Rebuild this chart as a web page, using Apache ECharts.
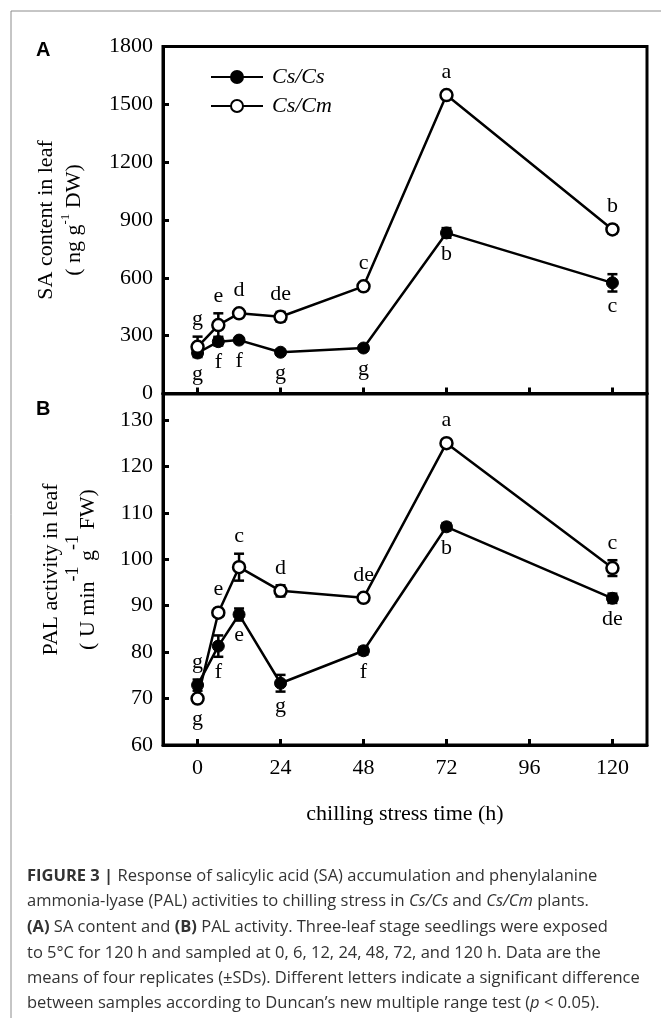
<!DOCTYPE html>
<html>
<head>
<meta charset="utf-8">
<script src="https://cdn.jsdelivr.net/npm/echarts@6/dist/echarts.min.js"></script>
<style>
html,body{margin:0;padding:0;background:#fff}
#main{width:661px;height:1018px}
</style>
</head>
<body>
<div id="main"></div>
<script>
var hours = [0, 6, 12, 24, 48, 72, 120];
var xTicks = [0, 24, 48, 72, 96, 120];

// A: SA content (ng g-1 DW)
var saCsCs = [210, 269, 277, 214, 236, 833, 574];
var saCsCsSd = [15, 20, 12, 12, 12, 25, 45];
var saCsCm = [242, 355, 416, 398, 556, 1548, 851];
var saCsCmSd = [53, 61, 15, 25, 12, 15, 20];
var saLetCsCs = ['g', 'f', 'f', 'g', 'g', 'b', 'c'];
var saLetCsCm = ['g', 'e', 'd', 'de', 'c', 'a', 'b'];

// B: PAL activity (U min-1 g-1 FW)
var palCsCs = [72.9, 81.3, 88.1, 73.3, 80.3, 107.0, 91.6];
var palCsCsSd = [1.2, 2.3, 1.3, 1.8, 0.8, 0.8, 1.0];
var palCsCm = [70.0, 88.5, 98.3, 93.2, 91.7, 125.0, 98.1];
var palCsCmSd = [0.5, 0.8, 2.9, 1.2, 0.6, 0.6, 1.7];
var palLetCsCs = ['g', 'f', 'e', 'g', 'f', 'b', 'de'];
var palLetCsCm = ['g', 'e', 'c', 'd', 'de', 'a', 'c'];

var serif = '"Liberation Serif", "Times New Roman", serif';
var sans = '"Open Sans", "Liberation Sans", Arial, sans-serif';

function pts(vals) {
	return hours.map(function(h, i) { return [h, vals[i]]; });
}

function lineSeries(name, idx, vals, open) {
	return {
		name: name,
		type: 'line',
		xAxisIndex: idx,
		yAxisIndex: idx,
		data: pts(vals),
		symbol: 'circle',
		symbolSize: 12,
		z: 3,
		lineStyle: { color: '#000', width: 2.5 },
		itemStyle: open ? { color: '#fff', borderColor: '#000', borderWidth: 2.5 }
		                : { color: '#000', borderColor: '#000', borderWidth: 1 },
		emphasis: { disabled: true }
	};
}

// error bars + significance letters
function errSeries(idx, vals, sds, letters, other) {
	return {
		type: 'custom',
		xAxisIndex: idx,
		yAxisIndex: idx,
		z: 2,
		silent: true,
		data: hours.map(function(h, i) { return [h, vals[i], sds[i]]; }),
		encode: { x: 0, y: 1 },
		renderItem: function(params, api) {
			var i = params.dataIndex;
			var p = api.coord([hours[i], vals[i]]);
			var hi = api.coord([hours[i], vals[i] + sds[i]]);
			var lo = api.coord([hours[i], vals[i] - sds[i]]);
			var up = vals[i] >= other[i];
			var ty = up ? Math.min(p[1] - 12, hi[1] - 6) : Math.max(p[1] + 10, lo[1] + 4);
			var st = { stroke: '#000', lineWidth: 2.5 };
			return {
				type: 'group',
				children: [
					{ type: 'line', shape: { x1: p[0], y1: hi[1], x2: p[0], y2: lo[1] }, style: st },
					{ type: 'line', shape: { x1: p[0] - 5, y1: hi[1], x2: p[0] + 5, y2: hi[1] }, style: st },
					{ type: 'line', shape: { x1: p[0] - 5, y1: lo[1], x2: p[0] + 5, y2: lo[1] }, style: st },
					{ type: 'text', x: p[0], y: ty, rotation: 0, style: {
						text: letters[i], fontFamily: serif, fontSize: 22, fill: '#000',
						align: 'center', verticalAlign: up ? 'bottom' : 'top'
					} }
				]
			};
		}
	};
}

function plain(v) { return String(v); }

function xAxis(idx, showLabel) {
	return {
		type: 'value', gridIndex: idx, min: -10, max: 130,
		axisLine: { onZero: false, lineStyle: { color: '#000', width: 3 } },
		axisTick: { inside: true, length: 6, customValues: xTicks, lineStyle: { color: '#000', width: 3 } },
		axisLabel: { show: showLabel, customValues: xTicks, formatter: plain, margin: 12, fontFamily: serif, fontSize: 22, color: '#000' },
		splitLine: { show: false },
		name: showLabel ? 'chilling stress time (h)' : '',
		nameLocation: 'middle', nameGap: 58,
		nameTextStyle: { fontFamily: serif, fontSize: 22, color: '#000' }
	};
}

function yAxis(idx, min, max, interval, name, supSize, supPad, gap) {
	var base = { fontFamily: serif, fontSize: 22, color: '#000', lineHeight: 26 };
	return {
		type: 'value', gridIndex: idx, min: min, max: max, interval: interval,
		axisLine: { onZero: false, lineStyle: { color: '#000', width: 3 } },
		axisTick: { inside: true, length: 6, lineStyle: { color: '#000', width: 3 } },
		axisLabel: { margin: 10, formatter: plain, fontFamily: serif, fontSize: 22, color: '#000', showMaxLabel: idx == 0 },
		splitLine: { show: false },
		name: name, nameLocation: 'middle', nameRotate: 90, nameGap: gap,
		nameTextStyle: {
			rich: {
				a: base,
				s: { fontFamily: serif, fontSize: supSize, color: '#000', padding: [0, 0, supPad, 0] }
			}
		}
	};
}

function captionLine(y, text) {
	return {
		type: 'text', x: 27, y: y,
		style: {
			text: text, fontFamily: sans, fontSize: 16.5, fill: '#333', verticalAlign: 'middle',
			rich: {
				n: { fontFamily: sans, fontSize: 16.5, color: '#333' },
				b: { fontFamily: sans, fontSize: 16.5, fontWeight: 'bold', color: '#222' },
				i: { fontFamily: sans, fontSize: 16.5, fontStyle: 'italic', color: '#333' }
			}
		}
	};
}

var myChart = echarts.init(document.getElementById('main'));
var option = {
	backgroundColor: '#fff',
	animation: false,
	grid: [
		{ left: 163, right: 14, top: 46.5, height: 347, show: true, borderColor: '#000', borderWidth: 3 },
		{ left: 163, right: 14, top: 394, height: 351, show: true, borderColor: '#000', borderWidth: 3 }
	],
	legend: {
		data: ['Cs/Cs', 'Cs/Cm'],
		orient: 'vertical', left: 205, top: 61, itemGap: 7,
		itemWidth: 52, itemHeight: 15,
		textStyle: { fontFamily: serif, fontStyle: 'italic', fontSize: 22, color: '#000', padding: [0, 0, 0, 4] }
	},
	xAxis: [xAxis(0, false), xAxis(1, true)],
	yAxis: [
		yAxis(0, 0, 1800, 300, '{a|SA content in leaf}\n{a|( ng g}{s|-1}{a| DW)}', 13, 18, 73),
		yAxis(1, 60, 135.6, 10, '{a|PAL activity in leaf}\n{a|( U min}{s|-1}{a| g}{s|-1}{a| FW)}', 18, 30, 51)
	],
	series: [
		errSeries(0, saCsCs, saCsCsSd, saLetCsCs, saCsCm),
		errSeries(0, saCsCm, saCsCmSd, saLetCsCm, saCsCs),
		lineSeries('Cs/Cs', 0, saCsCs, false),
		lineSeries('Cs/Cm', 0, saCsCm, true),
		errSeries(1, palCsCs, palCsCsSd, palLetCsCs, palCsCm),
		errSeries(1, palCsCm, palCsCmSd, palLetCsCm, palCsCs),
		lineSeries('Cs/Cs', 1, palCsCs, false),
		lineSeries('Cs/Cm', 1, palCsCm, true)
	],
	graphic: [
		{ type: 'line', shape: { x1: 11, y1: 11, x2: 661, y2: 11 }, style: { stroke: '#8c8c8c', lineWidth: 1 } },
		{ type: 'line', shape: { x1: 11, y1: 11, x2: 11, y2: 1018 }, style: { stroke: '#8c8c8c', lineWidth: 1 } },
		{ type: 'text', x: 36, y: 50, style: { text: 'A', fontFamily: '"Liberation Sans", Arial, sans-serif', fontWeight: 'bold', fontSize: 20, fill: '#000', verticalAlign: 'middle' } },
		{ type: 'text', x: 36, y: 409, style: { text: 'B', fontFamily: '"Liberation Sans", Arial, sans-serif', fontWeight: 'bold', fontSize: 20, fill: '#000', verticalAlign: 'middle' } },
		captionLine(876, '{b|FIGURE 3 | }{n|Response of salicylic acid (SA) accumulation and phenylalanine}'),
		captionLine(901.7, '{n|ammonia-lyase (PAL) activities to chilling stress in }{i|Cs/Cs}{n| and }{i|Cs/Cm}{n| plants.}'),
		captionLine(927.3, '{b|(A)}{n| SA content and }{b|(B)}{n| PAL activity. Three-leaf stage seedlings were exposed}'),
		captionLine(953, '{n|to 5°C for 120 h and sampled at 0, 6, 12, 24, 48, 72, and 120 h. Data are the}'),
		captionLine(978.3, '{n|means of four replicates (±SDs). Different letters indicate a significant difference}'),
		captionLine(1003.3, '{n|between samples according to Duncan’s new multiple range test (}{i|p}{n| < 0.05).}')
	]
};
myChart.setOption(option);
</script>
</body>
</html>
